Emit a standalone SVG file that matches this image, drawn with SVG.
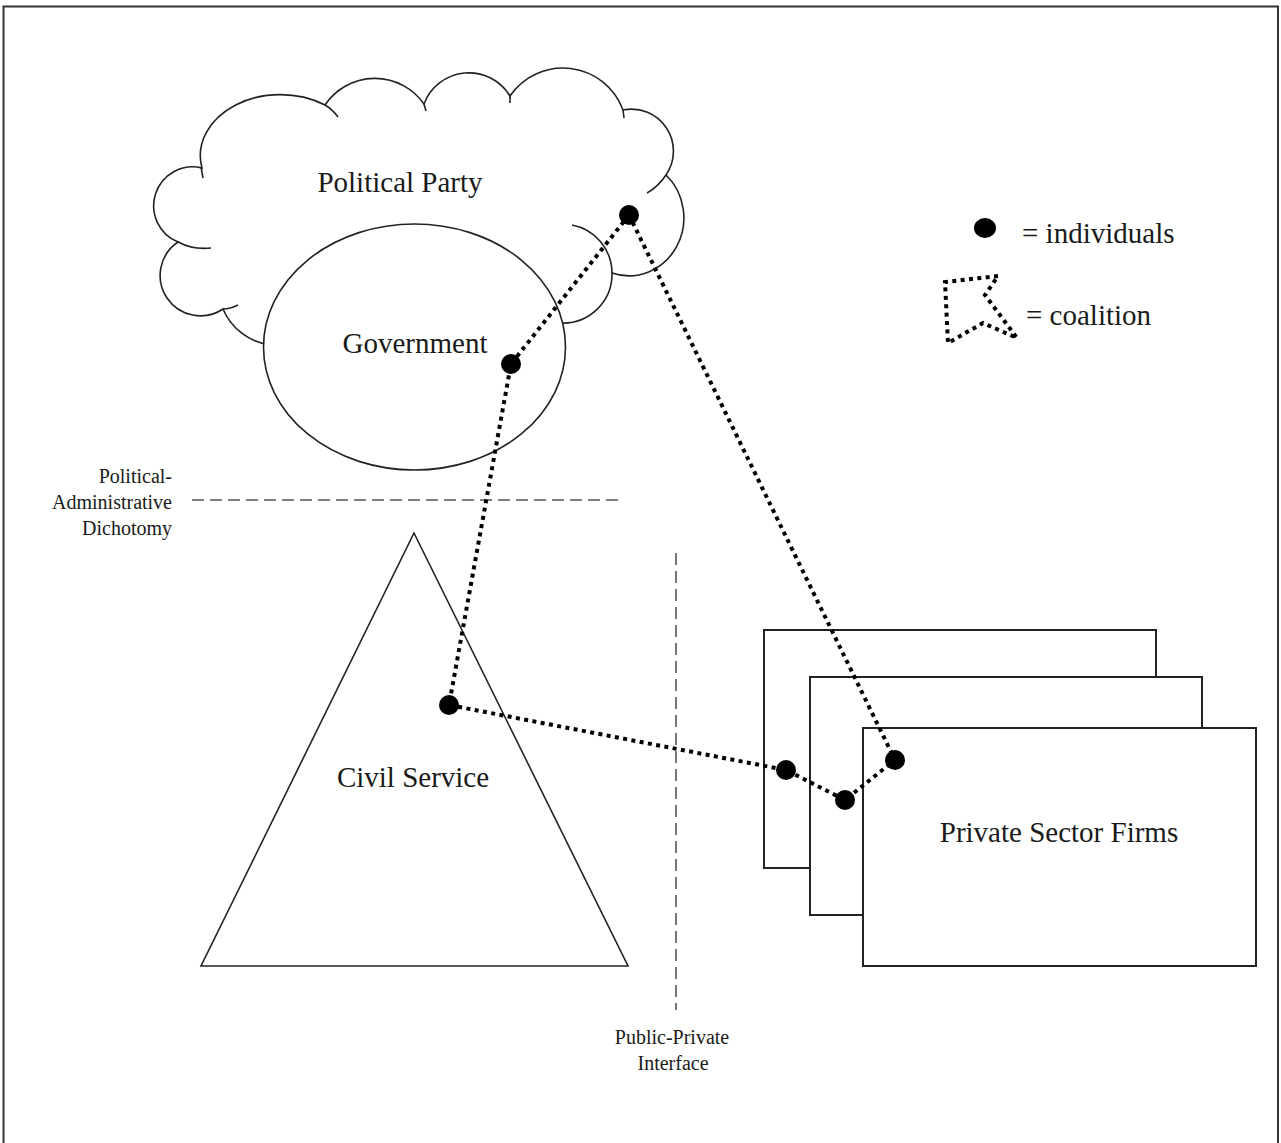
<svg xmlns="http://www.w3.org/2000/svg" width="1281" height="1143" viewBox="0 0 1281 1143">
<style>
text{font-family:"Liberation Serif","Times New Roman",serif;fill:#1a1a1a}
.big{font-size:29px}
.small{font-size:20px}
.shape{fill:#fff;stroke:#222;stroke-width:1.6}
.tail{fill:none;stroke:#222;stroke-width:1.6}
.box{fill:#fff;stroke:#222;stroke-width:2}
.dash{fill:none;stroke:#555;stroke-width:1.6;stroke-dasharray:12 6}
.dot{fill:#000}
.coal{fill:none;stroke:#000;stroke-width:4;stroke-dasharray:4 4.4}
</style>
<rect width="1281" height="1143" fill="#fff"/>
<path d="M3.5 1143 V6.5 H1278 V1143" fill="none" stroke="#333" stroke-width="2"/>

<g id="political-party">
<path class="shape" d="M270 345 A60 60 0 0 1 223 309 A40 40 0 0 1 178 242 A39 39 0 0 1 202 168 A80 61 0 0 1 325 105 A60 60 0 0 1 424 104 A48 48 0 0 1 510 96 A64 64 0 0 1 623 110 A42 42 0 0 1 666 175 A55 58 0 0 1 612 273 A49 49 0 0 1 560 323 L480 400 L300 400 Z"/>
<path class="tail" d="M201 167 L203 178 M178 242 Q193 250 211 248 M223 309 Q230 309 238 305 M325 105 Q332 109 338 117 M424 104 L426 111 M510 96 L510 103 M623 110 L624 118 M666 175 Q658 187 647 193 M612 273 A49 49 0 0 0 572 225"/>
<text class="big" x="400" y="192" text-anchor="middle">Political Party</text>
</g>

<g id="government">
<ellipse class="shape" cx="414.5" cy="347" rx="151" ry="123"/>
<text class="big" x="415" y="353" text-anchor="middle">Government</text>
</g>

<g id="civil-service">
<polygon class="shape" points="414,533 628,966 201,966"/>
<text class="big" x="413" y="787" text-anchor="middle">Civil Service</text>
</g>

<g id="private-sector-firms">
<rect class="box" x="764" y="630" width="392" height="238"/>
<rect class="box" x="810" y="677" width="392" height="238"/>
<rect class="box" x="863" y="728" width="393" height="238"/>
<text class="big" x="1059" y="842" text-anchor="middle">Private Sector Firms</text>
</g>

<g id="political-administrative-dichotomy">
<line class="dash" x1="192" y1="500" x2="620" y2="500"/>
<text class="small" x="172" y="483" text-anchor="end">Political-</text>
<text class="small" x="172" y="509" text-anchor="end">Administrative</text>
<text class="small" x="172" y="535" text-anchor="end">Dichotomy</text>
</g>

<g id="public-private-interface">
<line class="dash" x1="676" y1="553" x2="676" y2="1010"/>
<text class="small" x="672" y="1044" text-anchor="middle">Public-Private</text>
<text class="small" x="673" y="1070" text-anchor="middle">Interface</text>
</g>

<g id="connectors">
<polygon class="coal" points="629,215 511,364 449,705 786,770 845,800 895,760"/>
</g>

<g id="individuals">
<circle class="dot" cx="629" cy="215" r="10"/>
<circle class="dot" cx="511" cy="364" r="10"/>
<circle class="dot" cx="449" cy="705" r="10"/>
<circle class="dot" cx="786" cy="770" r="10"/>
<circle class="dot" cx="845" cy="800" r="10"/>
<circle class="dot" cx="895" cy="760" r="10"/>
</g>

<g id="legend">
<ellipse class="dot" cx="985" cy="228" rx="11" ry="10"/>
<text class="big" x="1022" y="243">= individuals</text>
<polygon class="coal" points="998,276 945,282 948,343 983,323 1017,338 985,295"/>
<text class="big" x="1026" y="325">= coalition</text>
</g>
</svg>
